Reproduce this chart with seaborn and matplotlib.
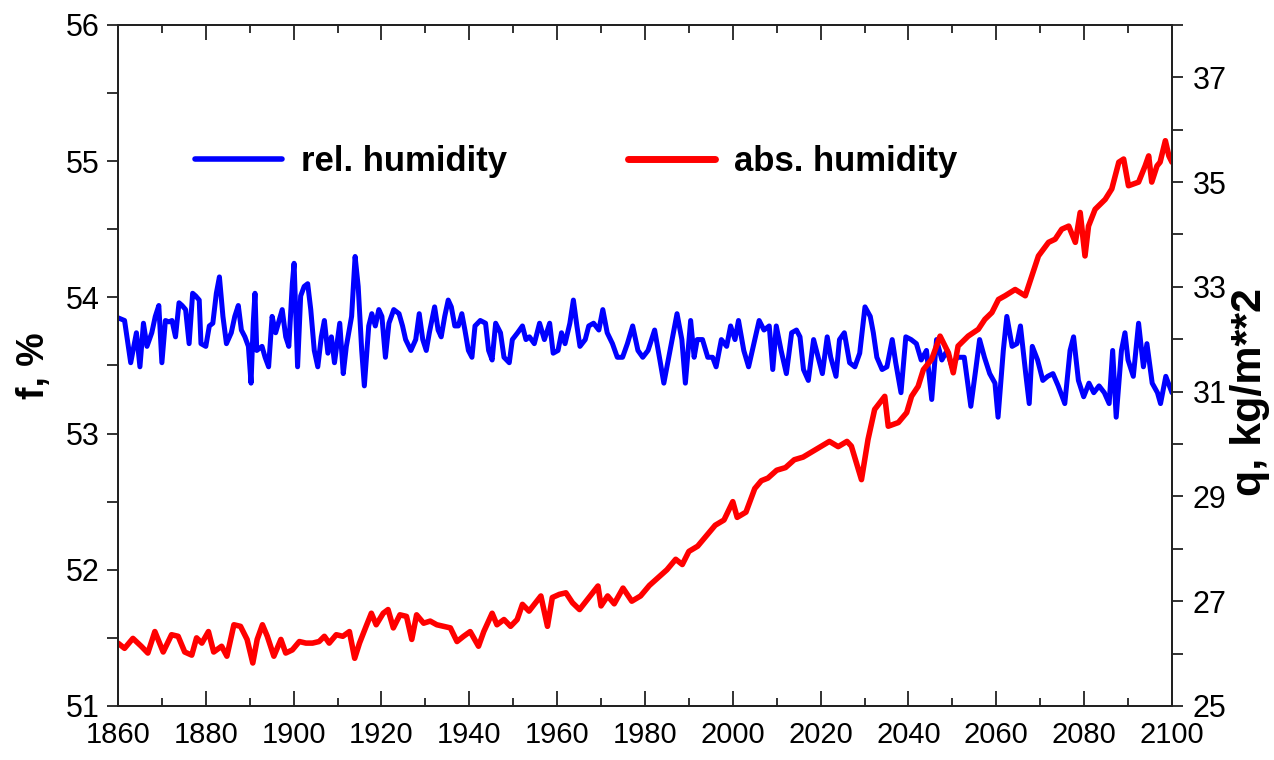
import numpy as np
import pandas as pd
import seaborn as sns
import matplotlib.pyplot as plt
from matplotlib.ticker import MultipleLocator
from matplotlib.lines import Line2D

# relative humidity f, % (left axis)
rel_years = [1860.0, 1861.5, 1862.9, 1864.2, 1865.0, 1865.8, 1866.6, 1867.7, 1868.5, 1869.3,
             1870.0, 1870.8, 1871.6, 1872.3, 1873.1, 1873.9, 1874.6, 1875.4, 1876.2, 1877.0,
             1877.7, 1878.5, 1878.9, 1880.0, 1880.8, 1881.6, 1882.4, 1883.1, 1883.9, 1884.7,
             1885.8, 1886.6, 1887.4, 1888.1, 1888.9, 1889.7, 1890.3, 1890.8, 1891.2, 1891.6,
             1892.8, 1893.5, 1894.3, 1895.1, 1895.9, 1896.6, 1897.4, 1898.2, 1898.9, 1899.7,
             1900.1, 1900.9, 1901.6, 1902.4, 1903.2, 1903.9, 1904.7, 1905.5, 1906.3, 1907.0,
             1907.8, 1908.6, 1909.3, 1910.5, 1911.3, 1912.0, 1913.2, 1914.0, 1914.7, 1915.5,
             1916.1, 1917.1, 1917.8, 1918.6, 1919.4, 1920.1, 1920.9, 1921.7, 1922.8, 1924.0,
             1924.8, 1925.5, 1926.7, 1927.8, 1928.6, 1929.4, 1930.2, 1930.9, 1932.1, 1932.9,
             1933.6, 1934.4, 1935.2, 1935.9, 1936.7, 1937.5, 1938.3, 1939.0, 1939.8, 1940.6,
             1941.3, 1942.5, 1943.7, 1944.4, 1945.2, 1946.0, 1947.1, 1947.9, 1949.1, 1949.8,
             1951.0, 1952.1, 1952.9, 1953.7, 1954.8, 1956.0, 1957.1, 1958.3, 1959.1, 1960.2,
             1961.0, 1961.8, 1962.9, 1963.7, 1964.5, 1965.2, 1966.4, 1967.2, 1968.3, 1969.5,
             1970.4, 1971.4, 1972.6, 1973.7, 1974.9, 1976.0, 1977.2, 1978.4, 1979.5, 1980.7,
             1982.2, 1983.4, 1984.3, 1985.3, 1986.5, 1987.3, 1988.4, 1989.2, 1990.4, 1991.2,
             1991.9, 1993.1, 1994.3, 1995.4, 1996.2, 1997.4, 1998.6, 1999.5, 2000.5, 2001.3,
             2002.5, 2003.6, 2004.8, 2006.0, 2007.1, 2008.3, 2009.1, 2009.9, 2011.0, 2012.2,
             2013.4, 2014.5, 2015.3, 2016.1, 2017.2, 2018.4, 2019.6, 2020.4, 2021.5, 2022.3,
             2023.5, 2024.3, 2025.4, 2026.6, 2027.8, 2028.9, 2030.1, 2031.3, 2032.0, 2032.8,
             2034.0, 2035.1, 2036.3, 2037.1, 2038.3, 2039.4, 2040.6, 2041.8, 2042.9, 2044.1,
             2045.3, 2046.4, 2047.6, 2048.8, 2049.9, 2051.1, 2052.7, 2054.2, 2055.4, 2056.2,
             2057.3, 2058.5, 2059.7, 2060.4, 2061.6, 2062.4, 2063.6, 2064.7, 2065.5, 2066.7,
             2067.5, 2068.2, 2069.4, 2070.6, 2071.7, 2072.9, 2074.1, 2075.6, 2076.8, 2077.6,
             2078.7, 2079.9, 2081.1, 2082.2, 2083.4, 2084.6, 2085.7, 2086.5, 2087.3, 2088.5,
             2089.3, 2090.0, 2091.2, 2092.4, 2093.5, 2094.3, 2095.5, 2096.7, 2097.4, 2098.6,
             2100.0]
rel_hum = [53.85, 53.83, 53.52, 53.74, 53.49, 53.81, 53.64, 53.74, 53.86, 53.94,
           53.52, 53.83, 53.82, 53.83, 53.71, 53.96, 53.94, 53.91, 53.66, 54.03,
           54.01, 53.98, 53.66, 53.64, 53.79, 53.81, 54.03, 54.15, 53.86, 53.66,
           53.74, 53.86, 53.94, 53.76, 53.71, 53.64, 53.37, 53.81, 54.03, 53.61,
           53.64, 53.56, 53.49, 53.86, 53.74, 53.82, 53.91, 53.71, 53.64, 54.10,
           54.25, 53.49, 54.01, 54.08, 54.10, 53.91, 53.61, 53.49, 53.71, 53.83,
           53.59, 53.71, 53.52, 53.81, 53.44, 53.64, 53.86, 54.30, 54.08, 53.61,
           53.35, 53.79, 53.88, 53.79, 53.91, 53.86, 53.56, 53.81, 53.91, 53.88,
           53.79, 53.69, 53.61, 53.69, 53.88, 53.69, 53.61, 53.74, 53.93, 53.76,
           53.71, 53.86, 53.98, 53.93, 53.79, 53.79, 53.88, 53.76, 53.61, 53.56,
           53.79, 53.83, 53.81, 53.61, 53.54, 53.81, 53.74, 53.56, 53.52, 53.69,
           53.74, 53.79, 53.69, 53.71, 53.66, 53.81, 53.69, 53.81, 53.59, 53.61,
           53.74, 53.66, 53.81, 53.98, 53.79, 53.64, 53.69, 53.79, 53.81, 53.76,
           53.91, 53.74, 53.66, 53.56, 53.56, 53.66, 53.79, 53.61, 53.56, 53.61,
           53.76, 53.54, 53.37, 53.54, 53.74, 53.88, 53.69, 53.37, 53.83, 53.56,
           53.69, 53.69, 53.56, 53.56, 53.49, 53.69, 53.64, 53.79, 53.69, 53.83,
           53.61, 53.49, 53.66, 53.83, 53.76, 53.79, 53.47, 53.79, 53.61, 53.44,
           53.74, 53.76, 53.71, 53.47, 53.39, 53.69, 53.54, 53.44, 53.71, 53.56,
           53.42, 53.69, 53.74, 53.52, 53.49, 53.59, 53.93, 53.86, 53.74, 53.56,
           53.47, 53.49, 53.69, 53.52, 53.30, 53.71, 53.69, 53.66, 53.54, 53.61,
           53.25, 53.69, 53.54, 53.61, 53.49, 53.56, 53.56, 53.20, 53.49, 53.69,
           53.56, 53.44, 53.37, 53.12, 53.61, 53.86, 53.64, 53.66, 53.79, 53.44,
           53.22, 53.64, 53.54, 53.39, 53.42, 53.44, 53.35, 53.22, 53.61, 53.71,
           53.39, 53.27, 53.37, 53.30, 53.35, 53.30, 53.22, 53.61, 53.12, 53.61,
           53.74, 53.54, 53.42, 53.81, 53.49, 53.66, 53.37, 53.30, 53.22, 53.42,
           53.30]

# absolute humidity q, kg/m**2 (right axis)
abs_years = [1860.0, 1861.5, 1863.4, 1865.3, 1866.8, 1868.4, 1870.3, 1872.2, 1873.7, 1875.2,
             1876.8, 1877.9, 1879.1, 1880.6, 1881.8, 1883.6, 1884.8, 1886.4, 1887.9, 1889.4,
             1890.7, 1891.7, 1892.9, 1894.0, 1895.5, 1897.1, 1898.2, 1899.7, 1901.3, 1902.8,
             1904.3, 1905.8, 1907.0, 1908.1, 1909.7, 1911.2, 1912.7, 1913.9, 1915.0, 1916.5,
             1917.7, 1918.8, 1920.4, 1921.5, 1922.7, 1924.2, 1925.7, 1926.9, 1928.0, 1929.6,
             1931.1, 1932.6, 1934.1, 1935.7, 1937.2, 1938.7, 1940.2, 1942.1, 1943.3, 1945.2,
             1946.3, 1947.9, 1949.4, 1950.9, 1952.1, 1953.6, 1955.1, 1956.3, 1957.8, 1958.9,
             1960.5, 1962.0, 1963.5, 1965.1, 1966.6, 1968.1, 1969.3, 1970.0, 1971.5, 1973.0,
             1975.0, 1977.0, 1979.0, 1981.0, 1983.0, 1985.0, 1987.0, 1988.5, 1990.0, 1992.0,
             1994.0, 1996.0, 1998.0, 2000.0, 2001.0, 2003.0, 2005.0, 2006.5, 2008.0, 2010.0,
             2012.0, 2014.0, 2016.0, 2018.0, 2020.0, 2022.0, 2024.0, 2026.0, 2027.0, 2029.3,
             2030.8, 2032.3, 2034.6, 2035.4, 2037.7, 2039.6, 2040.7, 2042.2, 2043.4, 2045.3,
             2047.2, 2049.1, 2050.2, 2051.3, 2053.6, 2055.9, 2057.4, 2059.0, 2060.5, 2062.0,
             2064.3, 2066.6, 2068.1, 2069.6, 2071.9, 2073.4, 2074.9, 2076.5, 2078.0, 2079.1,
             2080.2, 2081.0, 2082.5, 2084.8, 2086.3, 2087.9, 2089.0, 2090.1, 2092.4, 2093.9,
             2094.7, 2095.4, 2096.6, 2097.3, 2098.5, 2099.3, 2100.0]
abs_hum = [26.20, 26.10, 26.29, 26.14, 26.01, 26.42, 26.03, 26.36, 26.33, 26.03,
           25.97, 26.30, 26.20, 26.42, 26.03, 26.14, 25.95, 26.55, 26.52, 26.27,
           25.82, 26.27, 26.55, 26.33, 25.95, 26.27, 26.01, 26.07, 26.23, 26.20,
           26.20, 26.23, 26.33, 26.20, 26.36, 26.33, 26.42, 25.91, 26.20, 26.52,
           26.77, 26.55, 26.77, 26.84, 26.49, 26.74, 26.71, 26.27, 26.74, 26.58,
           26.62, 26.55, 26.52, 26.49, 26.23, 26.33, 26.42, 26.14, 26.42, 26.77,
           26.55, 26.65, 26.52, 26.65, 26.94, 26.81, 26.97, 27.10, 26.52, 27.07,
           27.13, 27.16, 26.97, 26.84, 27.00, 27.16, 27.29, 26.91, 27.10, 26.95,
           27.25, 27.00, 27.10, 27.30, 27.45, 27.60, 27.80, 27.70, 27.95, 28.05,
           28.25, 28.45, 28.55, 28.90, 28.60, 28.70, 29.15, 29.30, 29.35, 29.50,
           29.55, 29.70, 29.75, 29.85, 29.95, 30.05, 29.95, 30.05, 29.96, 29.32,
           30.09, 30.66, 30.91, 30.34, 30.41, 30.60, 30.91, 31.10, 31.42, 31.62,
           32.06, 31.74, 31.36, 31.87, 32.06, 32.19, 32.38, 32.51, 32.76, 32.83,
           32.95, 32.83, 33.21, 33.59, 33.85, 33.91, 34.10, 34.16, 33.85, 34.42,
           33.59, 34.16, 34.48, 34.67, 34.87, 35.38, 35.44, 34.93, 35.00, 35.31,
           35.50, 35.00, 35.31, 35.38, 35.79, 35.50, 35.38]

x_ticks = list(range(1860, 2101, 20))
left_ticks = [51, 52, 53, 54, 55, 56]
right_ticks = [25, 27, 29, 31, 33, 35, 37]

rel_df = pd.DataFrame({"year": rel_years, "f": rel_hum})
abs_df = pd.DataFrame({"year": abs_years, "q": abs_hum})

sns.set_style("white")
plt.rcParams['font.family'] = ['Liberation Sans', 'DejaVu Sans']
plt.rcParams.update({"text.color": "black", "axes.labelcolor": "black",
                     "xtick.color": "black", "ytick.color": "black"})

fig = plt.figure(figsize=(12.74, 7.6), dpi=100)
ax = fig.add_axes([0.0926, 0.0711, 0.8273, 0.8961])
ax2 = ax.twinx()

sns.lineplot(data=rel_df, x="year", y="f", ax=ax, color="#0000ff", lw=3.6)
sns.lineplot(data=abs_df, x="year", y="q", ax=ax2, color="#ff0000", lw=4.0)

ax.set_xlim(1860, 2100)
ax.set_ylim(51, 56)
ax2.set_ylim(25, 38)

ax.set_xticks(x_ticks)
ax.xaxis.set_minor_locator(MultipleLocator(10))
ax.set_yticks(left_ticks)
ax.yaxis.set_minor_locator(MultipleLocator(0.5))
ax2.set_yticks(right_ticks)
ax2.yaxis.set_minor_locator(MultipleLocator(1))

ax.tick_params(axis="x", which="both", direction="in", top=True, bottom=True,
               labelsize=21, pad=11, width=1.3, color="#222222")
ax.tick_params(axis="x", which="major", length=11)
ax.tick_params(axis="x", which="minor", length=6)
ax.tick_params(axis="y", which="both", direction="out", left=True, length=8,
               width=1.3, labelsize=22, pad=5, color="#222222")
ax2.tick_params(axis="y", which="both", direction="out", right=True, length=8,
                width=1.3, labelsize=22, pad=7, color="#222222")

for a in (ax, ax2):
    for s in a.spines.values():
        s.set_visible(True)
        s.set_linewidth(1.4)
        s.set_color("#222222")

ax.set_xlabel("")
ax.set_ylabel("f, %", fontsize=27, fontweight="bold")
ax.yaxis.set_label_coords(-0.063, 0.5)
ax2.set_ylabel("q, kg/m**2", fontsize=31, fontweight="bold")
ax2.yaxis.set_label_coords(1.055, 0.461)

blue_h = Line2D([], [], color="#0000ff", lw=4)
red_h = Line2D([], [], color="#ff0000", lw=5)
fig.legend([blue_h], ["rel. humidity"], loc="center left",
           bbox_to_anchor=(195 / 1274, 1 - 162 / 760), frameon=False,
           borderpad=0, borderaxespad=0, handlelength=2.5, handletextpad=0.55,
           prop={"size": 25, "weight": "bold"})
fig.legend([red_h], ["abs. humidity"], loc="center left",
           bbox_to_anchor=(628 / 1274, 1 - 162 / 760), frameon=False,
           borderpad=0, borderaxespad=0, handlelength=2.5, handletextpad=0.55,
           prop={"size": 25, "weight": "bold"})

fig.savefig("out.png", dpi=100)
